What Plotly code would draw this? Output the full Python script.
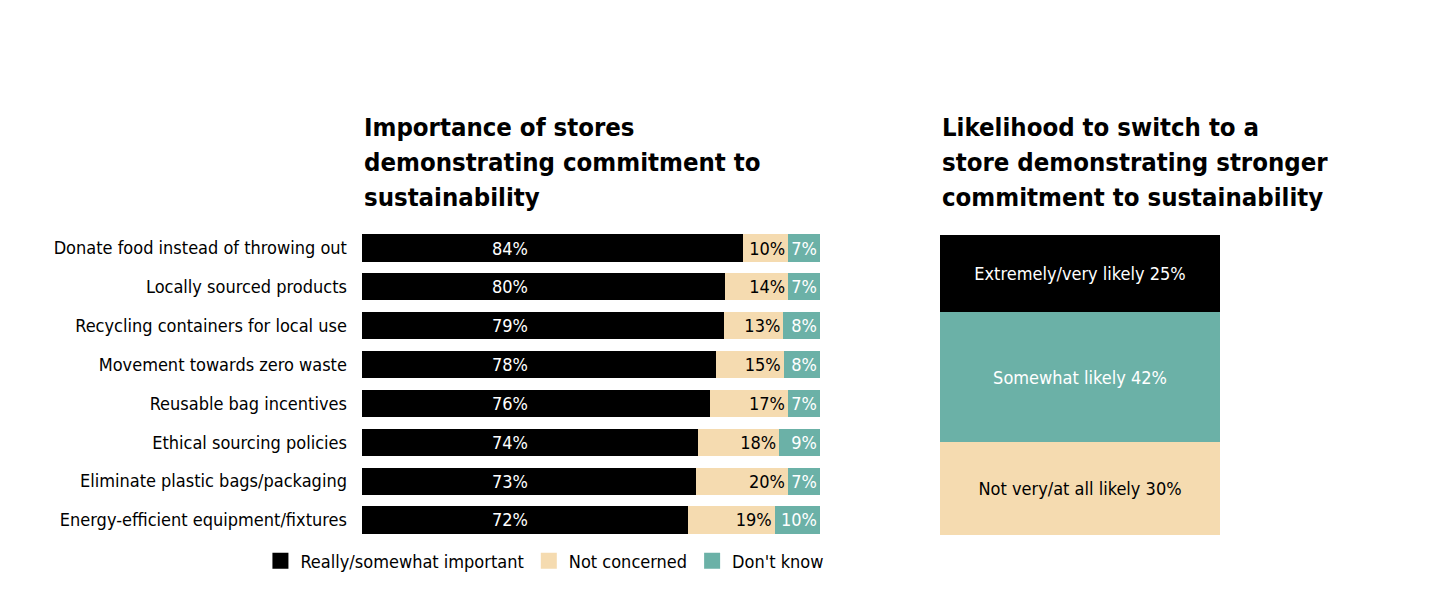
import plotly.graph_objects as go

# left chart data
items = [
    "Donate food instead of throwing out",
    "Locally sourced products",
    "Recycling containers for local use",
    "Movement towards zero waste",
    "Reusable bag incentives",
    "Ethical sourcing policies",
    "Eliminate plastic bags/packaging",
    "Energy-efficient equipment/fixtures",
]
important = [84, 80, 79, 78, 76, 74, 73, 72]
not_concerned = [10, 14, 13, 15, 17, 18, 20, 19]
dont_know = [7, 7, 8, 8, 7, 9, 7, 10]
series_names = ["Really/somewhat important", "Not concerned", "Don't know"]

# right chart data
switch_labels = ["Not very/at all likely", "Somewhat likely", "Extremely/very likely"]
switch_values = [30, 42, 25]

left_title = ["Importance of stores", "demonstrating commitment to", "sustainability"]
right_title = ["Likelihood to switch to a", "store demonstrating stronger",
               "commitment to sustainability"]

BLACK = "#000000"
BEIGE = "#F5DBB0"
TEAL = "#6BB1A7"
FONT = "DejaVu Sans Condensed, Roboto, sans-serif"

fig = go.Figure()

# left: stacked horizontal bars (normalised to the full width)
colors = [BLACK, BEIGE, TEAL]
text_colors = ["white", "black", "white"]
for name, vals, col, tcol in zip(series_names, [important, not_concerned, dont_know],
                                 colors, text_colors):
    is_black = col == BLACK
    fig.add_trace(go.Bar(
        y=items, x=vals, name=name, orientation="h", showlegend=False,
        marker=dict(color=col, line=dict(width=0)),
        text=None if is_black else [f"{v}%" for v in vals],
        textposition="none" if is_black else "inside",
        insidetextanchor="end", textangle=0,
        textfont=dict(color=tcol, size=18, family=FONT),
        width=0.7, xaxis="x", yaxis="y",
    ))

# the black segment labels sit at a fixed spot, not centred
LABEL_X = 32.3
for it, v in zip(items, important):
    fig.add_annotation(x=LABEL_X, y=it, xref="x", yref="y", text=f"{v}%",
                       showarrow=False, font=dict(color="white", size=18, family=FONT))

# legend entries with bigger square swatches
for name, col in zip(series_names, colors):
    fig.add_trace(go.Scatter(
        x=[None], y=[None], mode="markers", name=name,
        marker=dict(symbol="square", size=17, color=col),
        xaxis="x", yaxis="y",
    ))

# right: single stacked column
switch_colors = [BEIGE, TEAL, BLACK]
switch_text_colors = ["black", "white", "white"]
for lab, v, col, tcol in zip(switch_labels, switch_values, switch_colors, switch_text_colors):
    fig.add_trace(go.Bar(
        x=["switch"], y=[v], name=lab, showlegend=False,
        marker=dict(color=col, line=dict(width=0)),
        text=[f"{lab} {v}%"], textposition="inside",
        insidetextanchor="middle", textangle=0,
        textfont=dict(color=tcol, size=18, family=FONT),
        width=1, xaxis="x2", yaxis="y2",
    ))

fig.update_layout(
    width=1440, height=613,
    barmode="stack", barnorm="percent",
    paper_bgcolor="white", plot_bgcolor="white",
    margin=dict(l=0, r=0, t=0, b=0, autoexpand=False),
    font=dict(family=FONT, color="black", size=18),
    uniformtext=dict(minsize=16, mode="show"),
    xaxis=dict(domain=[0.2458, 0.5639], range=[0, 100], visible=False, fixedrange=True),
    yaxis=dict(domain=[0.1331, 0.6401], autorange="reversed", showgrid=False, automargin=False,
               ticks="", ticklabelstandoff=14, tickfont=dict(size=18, family=FONT),
               showline=False, zeroline=False),
    xaxis2=dict(domain=[0.6472, 0.8417], range=[-0.5, 0.5], visible=False),
    yaxis2=dict(domain=[0.1403, 0.6297], range=[0, 100], visible=False, anchor="x2"),
    legend=dict(orientation="h", x=0.1753, y=0.128, xanchor="left", yanchor="top",
                font=dict(size=18, family=FONT), traceorder="normal",
                itemwidth=30, itemsizing="trace", bgcolor="rgba(0,0,0,0)"),
    showlegend=True,
)

line_y = [0.8059, 0.7488, 0.6917]
for x0, lines in [(0.2458, left_title), (0.6472, right_title)]:
    for ln, yy in zip(lines, line_y):
        fig.add_annotation(
            text=f"<b>{ln}</b>", xref="paper", yref="paper", x=x0, y=yy,
            xanchor="left", yanchor="middle", align="left", showarrow=False,
            font=dict(size=25.5, family=FONT, color="black"),
        )

fig.write_html("out.html")
